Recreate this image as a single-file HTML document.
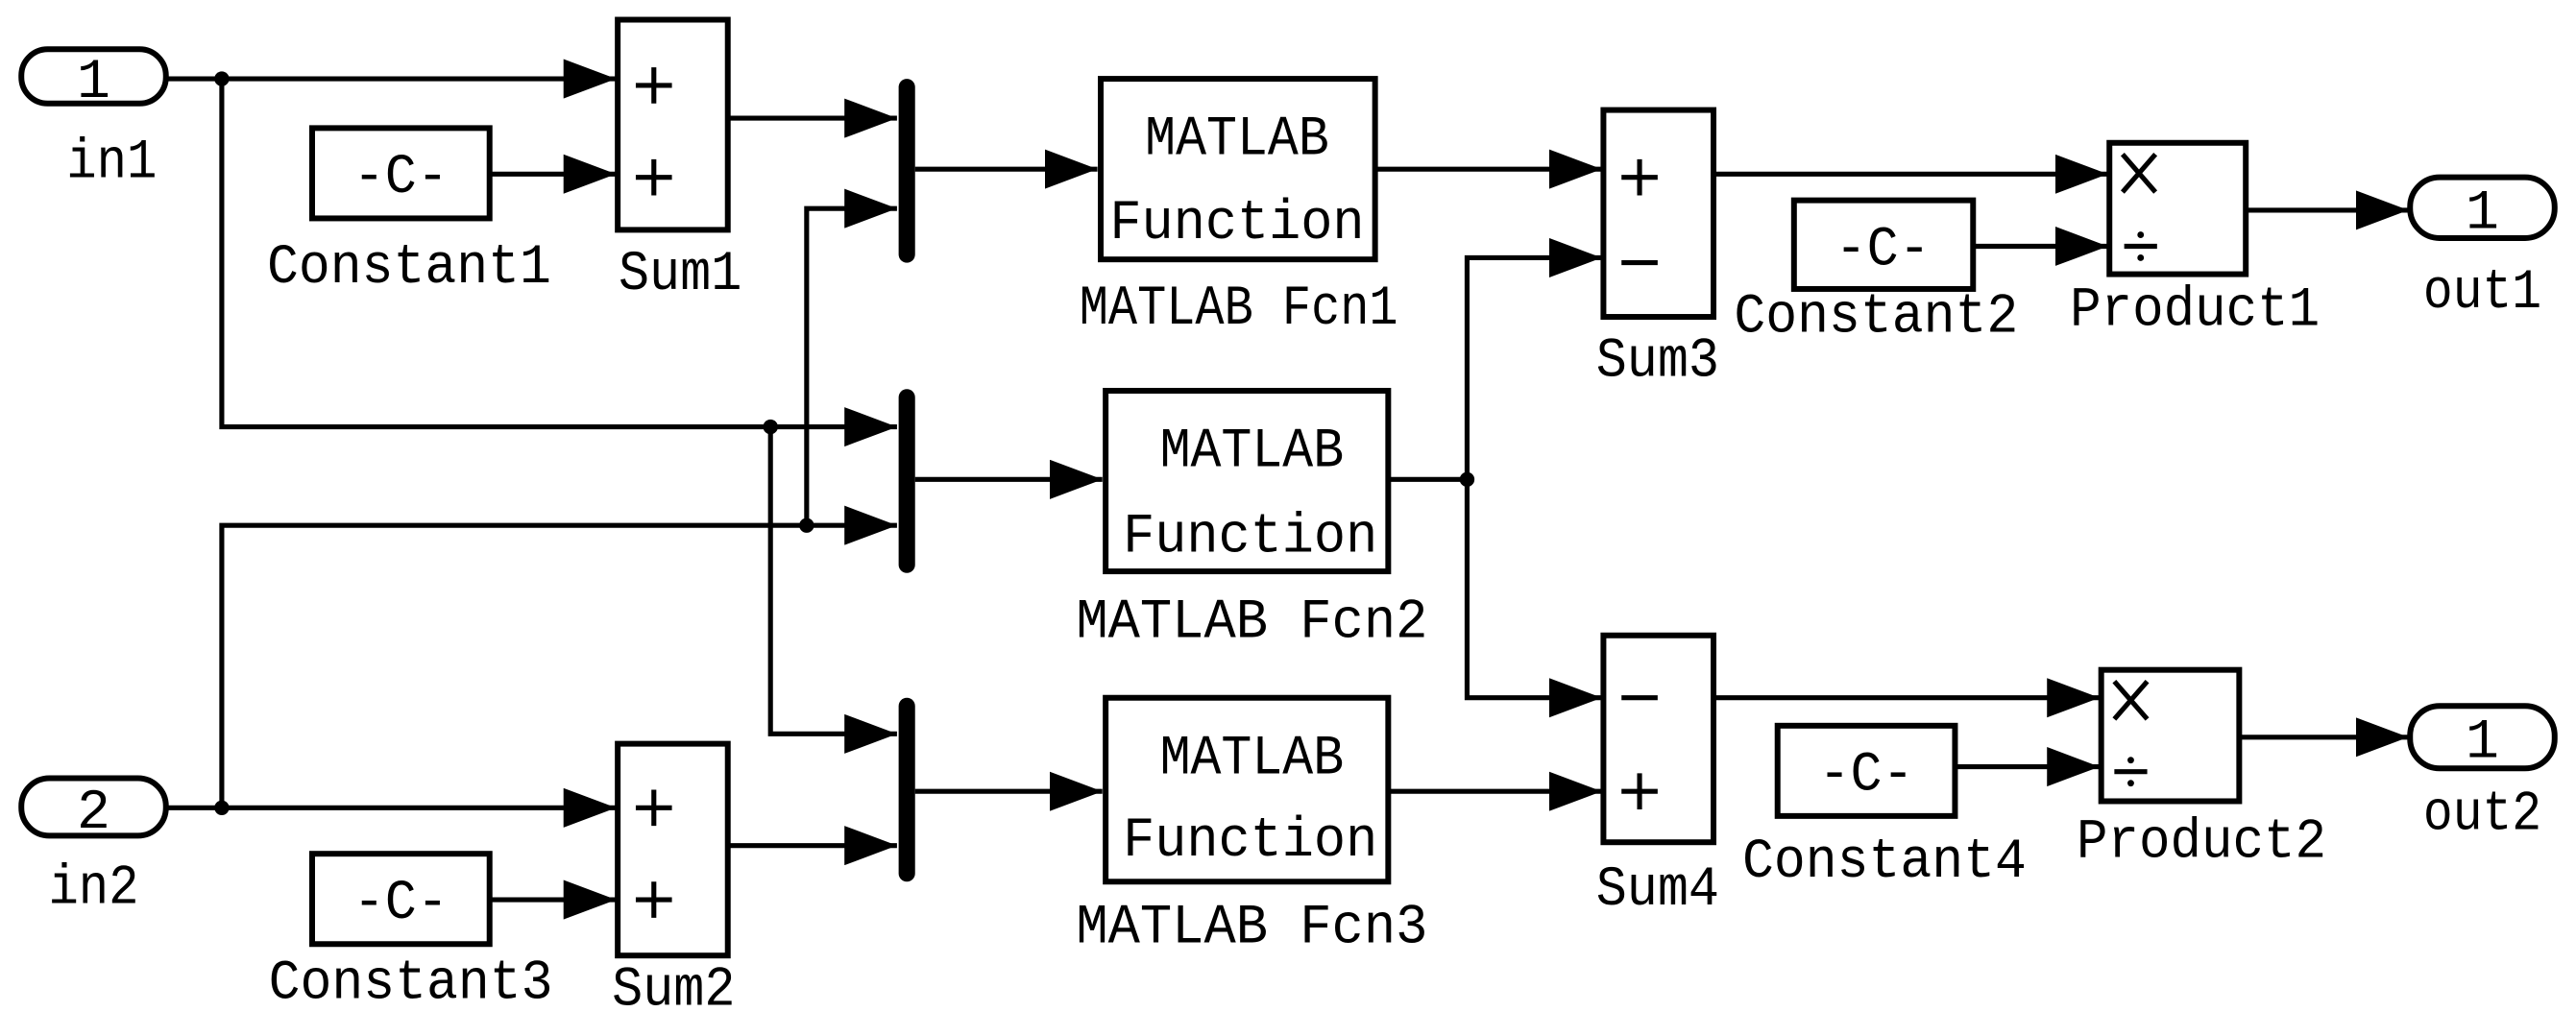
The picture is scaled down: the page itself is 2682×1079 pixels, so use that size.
<!DOCTYPE html>
<html><head><meta charset="utf-8"><style>html,body{margin:0;padding:0;background:#fff}svg{display:block}</style></head>
<body>
<svg width="2682" height="1079" viewBox="0 0 1568 631" preserveAspectRatio="none" xmlns="http://www.w3.org/2000/svg">
<defs>
<marker id="a" markerWidth="32" markerHeight="24" refX="32" refY="12" orient="auto" markerUnits="userSpaceOnUse">
<path d="M0,0 L32,12 L0,24 Z" fill="#000"/></marker>
</defs>
<g fill="none" stroke="#000" stroke-width="3.5">
<!-- ports -->
<rect x="13" y="30" width="88" height="33" rx="16"/>
<rect x="13" y="474" width="88" height="35" rx="17"/>
<rect x="1467" y="108" width="88" height="37" rx="18"/>
<rect x="1467" y="430" width="88" height="38" rx="18"/>
<!-- blocks -->
<rect x="376" y="12" width="67" height="128"/>
<rect x="190" y="78" width="108" height="55"/>
<rect x="670" y="48" width="167" height="110"/>
<rect x="976" y="67" width="67" height="126"/>
<rect x="1092" y="122" width="109" height="54"/>
<rect x="1284" y="87" width="83" height="80"/>
<rect x="673" y="238" width="172" height="110"/>
<rect x="376" y="453" width="67" height="129"/>
<rect x="190" y="520" width="108" height="55"/>
<rect x="673" y="425" width="172" height="112"/>
<rect x="976" y="387" width="67" height="126"/>
<rect x="1082" y="442" width="108" height="55"/>
<rect x="1279" y="408" width="84" height="80"/>
</g>
<!-- mux bars -->
<g fill="#000">
<rect x="547" y="48" width="10" height="112" rx="5"/>
<rect x="547" y="237" width="10" height="112" rx="5"/>
<rect x="547" y="425" width="10" height="112" rx="5"/>
<circle cx="135" cy="48" r="4.5"/><circle cx="135" cy="492" r="4.5"/>
<circle cx="469" cy="260" r="4.5"/><circle cx="491" cy="320" r="4.5"/>
<circle cx="893" cy="292" r="4.5"/>
</g>
<g fill="none" stroke="#000" stroke-width="3" marker-end="url(#a)">
<path d="M101,48 H375"/>
<path d="M135,48 V260 H546"/>
<path d="M298,106 H375"/>
<path d="M443,72 H546"/>
<path d="M491,320 V127 H546"/>
<path d="M557,103 H668"/>
<path d="M837,103 H975"/>
<path d="M1043,106 H1283"/>
<path d="M1201,150 H1283"/>
<path d="M1367,128 H1466"/>
<path d="M557,292 H671"/>
<path d="M845,292 H893 V157 H975"/>
<path d="M893,292 V425 H975"/>
<path d="M101,492 H375"/>
<path d="M135,492 V320 H546"/>
<path d="M469,260 V447 H546"/>
<path d="M298,548 H375"/>
<path d="M443,515 H546"/>
<path d="M557,482 H671"/>
<path d="M845,482 H975"/>
<path d="M1043,425 H1278"/>
<path d="M1190,467 H1278"/>
<path d="M1363,449 H1466"/>
</g>
<!-- signs -->
<g stroke="#000" stroke-width="3" fill="none">
<path d="M387,52 H409 M398,41 V63"/>
<path d="M387,108 H409 M398,97 V119"/>
<path d="M387,492 H409 M398,481 V503"/>
<path d="M387,548 H409 M398,537 V559"/>
<path d="M987,108 H1009 M998,97 V119"/>
<path d="M987,160 H1009"/>
<path d="M987,425 H1009"/>
<path d="M987,482 H1009 M998,471 V493"/>
<path d="M1292,94 L1312,117 M1312,94 L1292,117"/>
<path d="M1293,150 H1313"/>
<path d="M1287,415 L1307,438 M1307,415 L1287,438"/>
<path d="M1287,470 H1307"/>
</g>
<g fill="#000"><circle cx="1303" cy="143" r="2"/><circle cx="1303" cy="157" r="2"/><circle cx="1297" cy="463" r="2"/><circle cx="1297" cy="477" r="2"/></g>
<g font-family="Liberation Mono, monospace" font-size="34" fill="#000" text-anchor="middle" lengthAdjust="spacingAndGlyphs">
<text x="57" y="59">1</text>
<text x="57" y="504">2</text>
<text x="1511" y="139">1</text>
<text x="1511" y="461">1</text>
<text x="68" y="108" textLength="55" lengthAdjust="spacingAndGlyphs">in1</text>
<text x="57" y="550" textLength="55" lengthAdjust="spacingAndGlyphs">in2</text>
<text x="1511" y="187" textLength="72" lengthAdjust="spacingAndGlyphs">out1</text>
<text x="1511" y="505" textLength="72" lengthAdjust="spacingAndGlyphs">out2</text>
<text x="244" y="117" textLength="58" lengthAdjust="spacingAndGlyphs">-C-</text>
<text x="244" y="559" textLength="58" lengthAdjust="spacingAndGlyphs">-C-</text>
<text x="1146" y="161" textLength="58" lengthAdjust="spacingAndGlyphs">-C-</text>
<text x="1136" y="481" textLength="58" lengthAdjust="spacingAndGlyphs">-C-</text>
<text x="249" y="172" textLength="173" lengthAdjust="spacingAndGlyphs">Constant1</text>
<text x="250" y="608" textLength="173" lengthAdjust="spacingAndGlyphs">Constant3</text>
<text x="1142" y="202" textLength="173" lengthAdjust="spacingAndGlyphs">Constant2</text>
<text x="1147" y="534" textLength="173" lengthAdjust="spacingAndGlyphs">Constant4</text>
<text x="414" y="176" textLength="75" lengthAdjust="spacingAndGlyphs">Sum1</text>
<text x="410" y="612" textLength="75" lengthAdjust="spacingAndGlyphs">Sum2</text>
<text x="1009" y="229" textLength="75" lengthAdjust="spacingAndGlyphs">Sum3</text>
<text x="1009" y="551" textLength="75" lengthAdjust="spacingAndGlyphs">Sum4</text>
<text x="1336" y="198" textLength="152" lengthAdjust="spacingAndGlyphs">Product1</text>
<text x="1340" y="522" textLength="152" lengthAdjust="spacingAndGlyphs">Product2</text>
<text x="753" y="94" textLength="112" lengthAdjust="spacingAndGlyphs">MATLAB</text>
<text x="753" y="145" textLength="155" lengthAdjust="spacingAndGlyphs">Function</text>
<text x="762" y="284" textLength="112" lengthAdjust="spacingAndGlyphs">MATLAB</text>
<text x="761" y="336" textLength="155" lengthAdjust="spacingAndGlyphs">Function</text>
<text x="762" y="471" textLength="112" lengthAdjust="spacingAndGlyphs">MATLAB</text>
<text x="761" y="521" textLength="155" lengthAdjust="spacingAndGlyphs">Function</text>
<text x="754" y="197" textLength="194" lengthAdjust="spacingAndGlyphs">MATLAB Fcn1</text>
<text x="762" y="388" textLength="214" lengthAdjust="spacingAndGlyphs">MATLAB Fcn2</text>
<text x="762" y="574" textLength="214" lengthAdjust="spacingAndGlyphs">MATLAB Fcn3</text>
</g>
</svg>
</body></html>
